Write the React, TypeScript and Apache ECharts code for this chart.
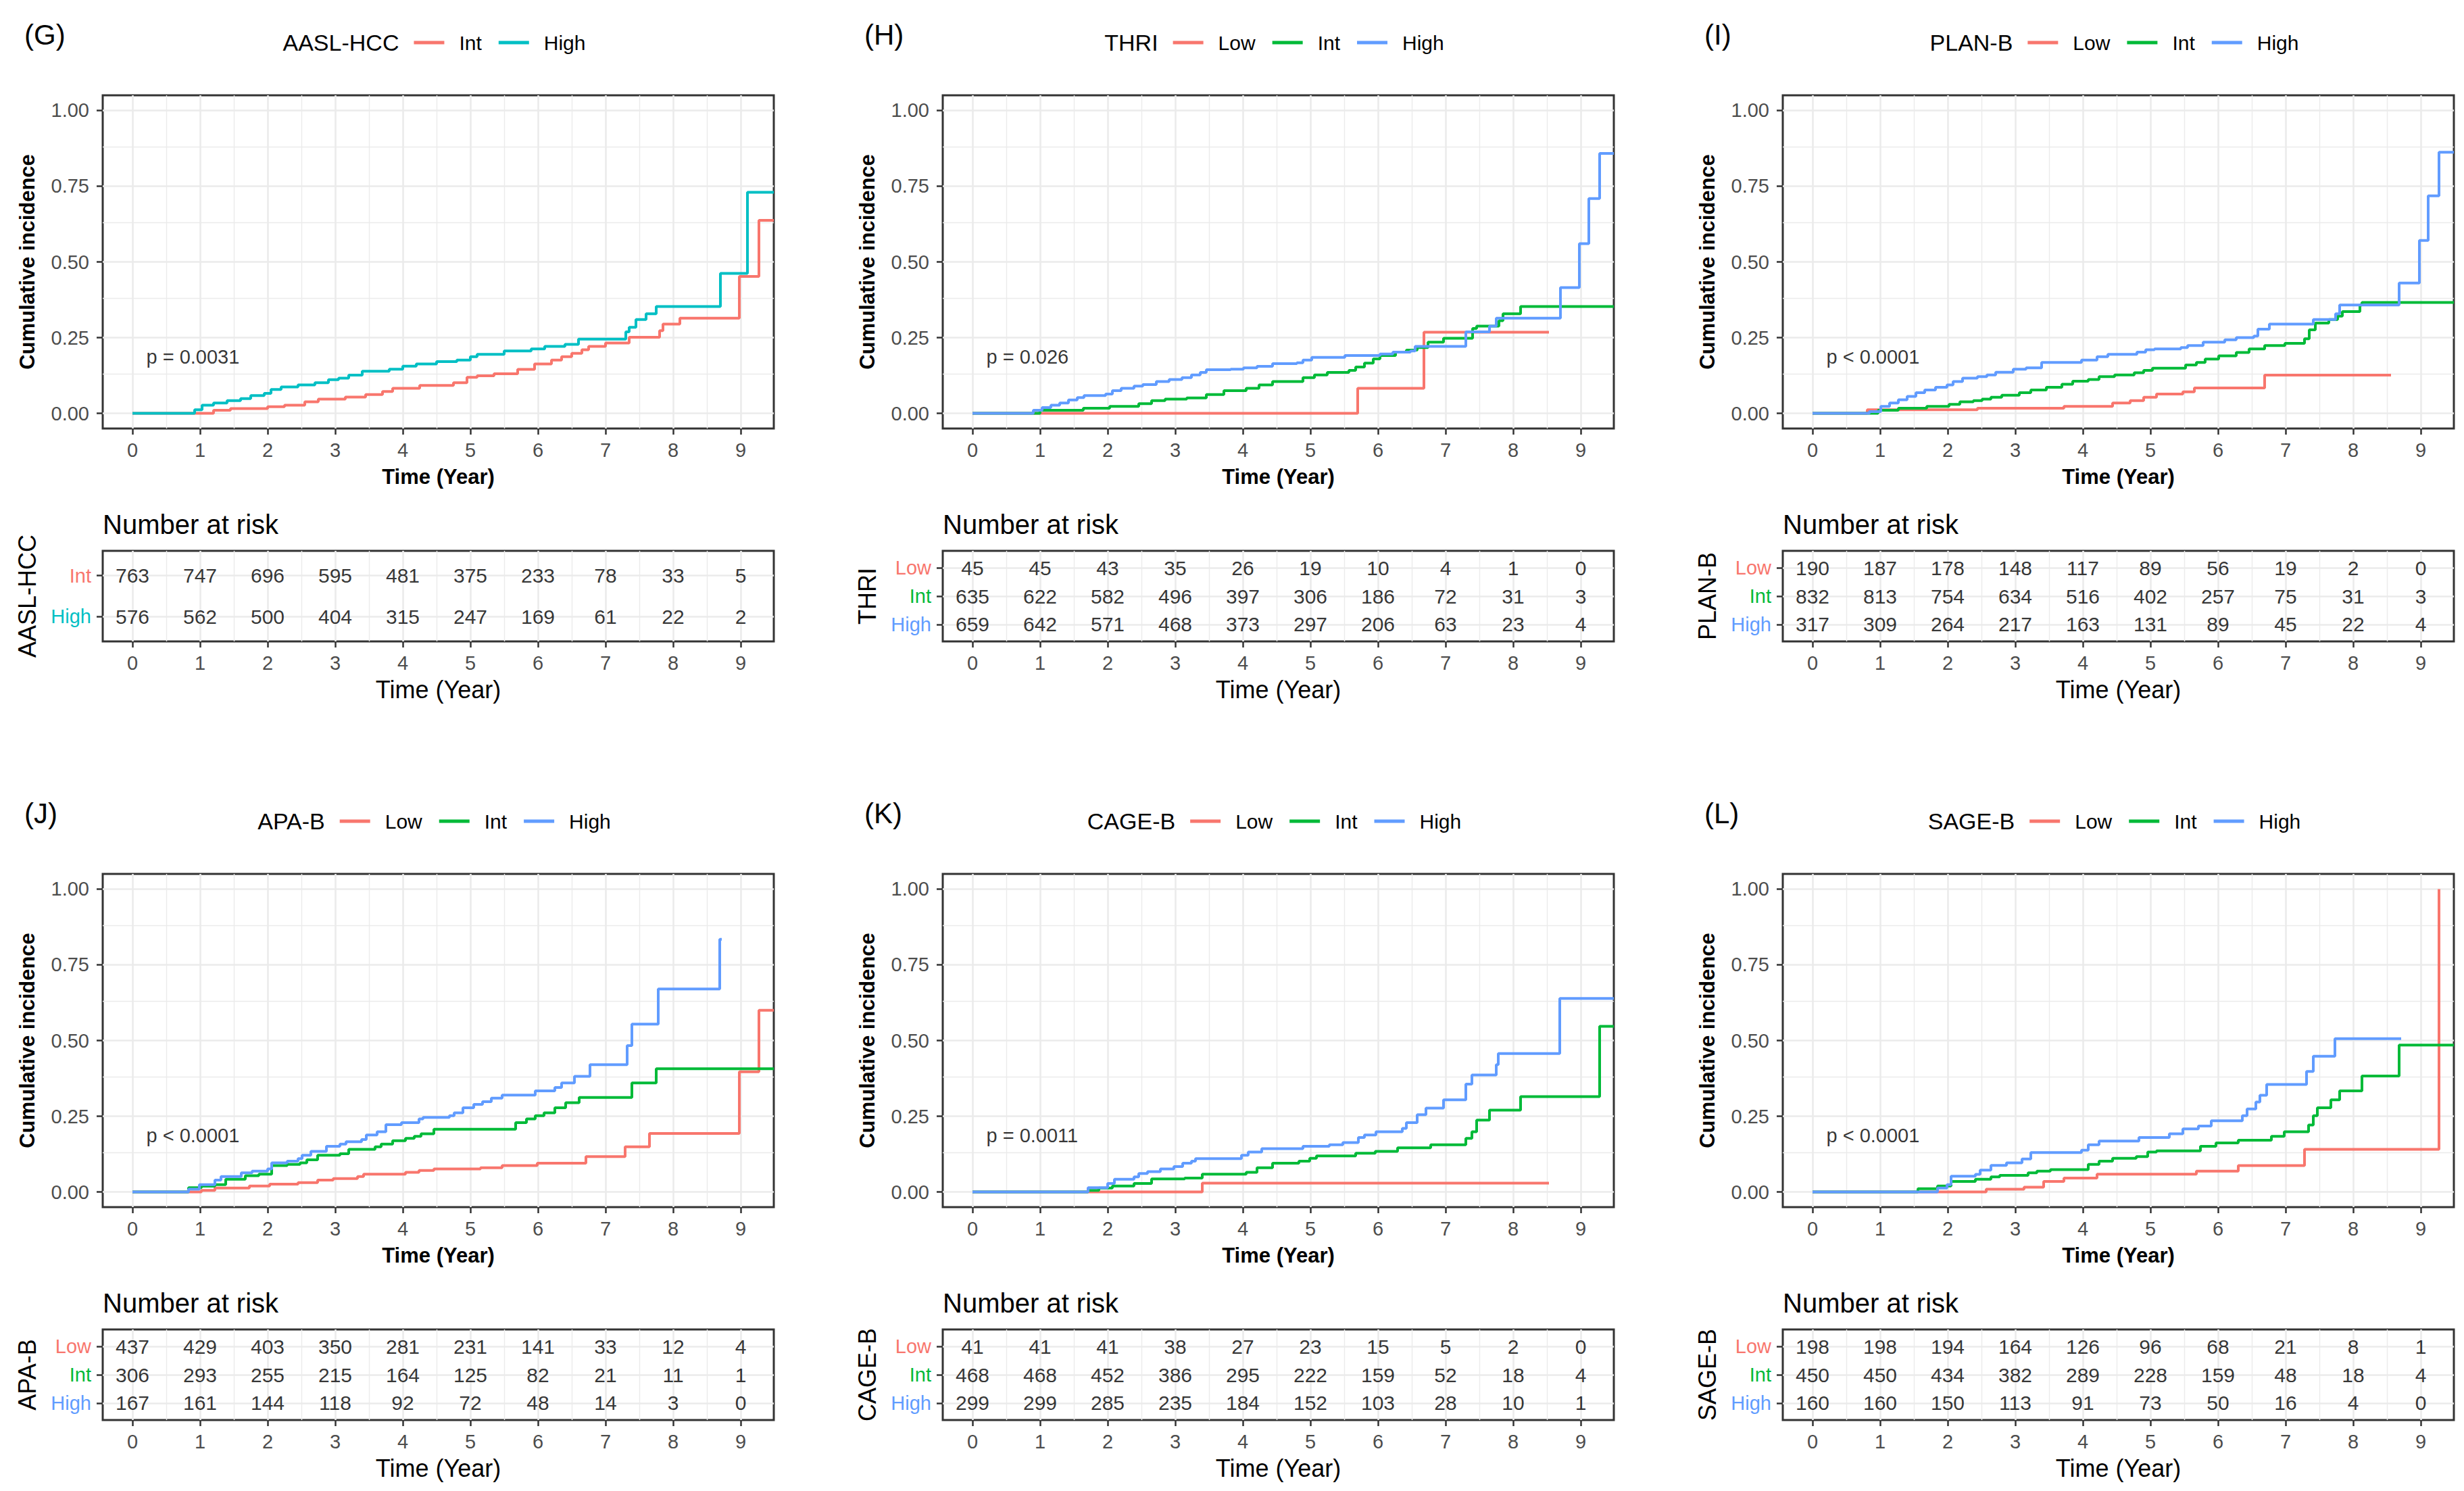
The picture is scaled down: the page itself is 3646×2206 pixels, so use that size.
import React, { useEffect, useRef } from "react";
import * as echarts from "echarts";

const FONT = "'Liberation Sans', Arial, Helvetica, sans-serif";
const RED = "#F8766D";
const GREEN = "#00BA38";
const BLUE = "#619CFF";
const CYAN = "#00BFC4";

const timeTicks = [0, 1, 2, 3, 4, 5, 6, 7, 8, 9];
const timeMinor = [0.5, 1.5, 2.5, 3.5, 4.5, 5.5, 6.5, 7.5, 8.5];
const incTicks = [0, 0.25, 0.5, 0.75, 1];
const incMinor = [0.125, 0.375, 0.625, 0.875];

// ---- (G) AASL-HCC ----
const gInt = [[0,0],[1.2,0.010],[1.45,0.016],[2.0,0.022],[2.25,0.027],[2.55,0.038],[2.75,0.047],[3.15,0.054],[3.45,0.062],[3.7,0.072],[3.85,0.083],[4.25,0.092],[4.75,0.101],[4.95,0.119],[5.1,0.124],[5.35,0.131],[5.7,0.145],[5.95,0.163],[6.2,0.176],[6.35,0.187],[6.5,0.198],[6.65,0.210],[6.75,0.221],[7.0,0.232],[7.35,0.251],[7.8,0.273],[7.85,0.295],[8.1,0.314],[8.98,0.452],[9.27,0.637],[9.49,0.637]];
const gHigh = [[0,0],[0.92,0.012],[1.03,0.027],[1.2,0.034],[1.4,0.042],[1.6,0.049],[1.75,0.059],[1.95,0.066],[2.05,0.079],[2.2,0.087],[2.45,0.094],[2.7,0.101],[2.9,0.111],[3.05,0.116],[3.2,0.126],[3.4,0.139],[3.8,0.146],[4.0,0.156],[4.2,0.163],[4.5,0.171],[4.8,0.176],[5.0,0.187],[5.1,0.195],[5.5,0.206],[5.9,0.213],[6.1,0.221],[6.4,0.228],[6.6,0.245],[7.3,0.269],[7.35,0.284],[7.45,0.310],[7.6,0.329],[7.75,0.353],[8.7,0.462],[9.1,0.730],[9.49,0.730]];
const gRiskInt = [763, 747, 696, 595, 481, 375, 233, 78, 33, 5];
const gRiskHigh = [576, 562, 500, 404, 315, 247, 169, 61, 22, 2];

// ---- (H) THRI ----
const hLow = [[0,0],[5.7,0.083],[6.68,0.268],[8.53,0.268]];
const hInt = [[0,0],[1.0,0.010],[1.64,0.017],[2.03,0.023],[2.46,0.032],[2.65,0.042],[2.85,0.047],[3.17,0.051],[3.46,0.062],[3.72,0.075],[4.05,0.083],[4.24,0.094],[4.44,0.105],[4.89,0.118],[5.06,0.127],[5.25,0.135],[5.57,0.142],[5.67,0.153],[5.8,0.166],[5.93,0.180],[6.03,0.191],[6.26,0.202],[6.42,0.209],[6.58,0.217],[6.74,0.235],[6.97,0.248],[7.4,0.280],[7.46,0.288],[7.79,0.306],[7.85,0.329],[8.11,0.353],[9.49,0.353]];
const hHigh = [[0,0],[0.9,0.010],[1.03,0.019],[1.16,0.027],[1.29,0.034],[1.42,0.044],[1.55,0.052],[1.65,0.059],[1.97,0.064],[2.07,0.075],[2.2,0.083],[2.39,0.090],[2.52,0.095],[2.72,0.105],[2.91,0.112],[3.1,0.118],[3.24,0.127],[3.37,0.135],[3.46,0.144],[3.82,0.146],[4.01,0.150],[4.21,0.155],[4.44,0.164],[4.8,0.167],[4.89,0.176],[5.02,0.185],[5.51,0.191],[6.03,0.196],[6.22,0.202],[6.48,0.206],[6.55,0.221],[7.3,0.269],[7.65,0.288],[7.75,0.314],[8.7,0.415],[8.98,0.560],[9.12,0.709],[9.28,0.858],[9.49,0.858]];
const hRiskLow = [45, 45, 43, 35, 26, 19, 10, 4, 1, 0];
const hRiskInt = [635, 622, 582, 496, 397, 306, 186, 72, 31, 3];
const hRiskHigh = [659, 642, 571, 468, 373, 297, 206, 63, 23, 4];

// ---- (I) PLAN-B ----
const iLow = [[0,0],[0.81,0.012],[2.44,0.017],[3.72,0.023],[4.44,0.034],[4.7,0.042],[4.9,0.053],[5.09,0.064],[5.48,0.071],[5.65,0.084],[6.69,0.126],[8.56,0.126]];
const iInt = [[0,0],[0.97,0.010],[1.27,0.017],[1.69,0.023],[2.02,0.030],[2.18,0.038],[2.38,0.042],[2.51,0.047],[2.64,0.053],[2.8,0.060],[3.06,0.068],[3.23,0.077],[3.46,0.086],[3.69,0.096],[3.85,0.106],[4.08,0.112],[4.24,0.121],[4.47,0.127],[4.76,0.134],[4.9,0.142],[5.03,0.149],[5.52,0.160],[5.68,0.168],[5.81,0.179],[6.01,0.190],[6.27,0.201],[6.46,0.213],[6.69,0.224],[6.99,0.231],[7.28,0.246],[7.35,0.276],[7.44,0.298],[7.64,0.310],[7.77,0.321],[7.84,0.336],[8.1,0.358],[8.13,0.366],[9.49,0.366]];
const iHigh = [[0,0],[0.84,0.006],[1.01,0.023],[1.14,0.034],[1.27,0.045],[1.4,0.056],[1.53,0.068],[1.66,0.077],[1.82,0.086],[1.99,0.094],[2.08,0.105],[2.22,0.116],[2.44,0.121],[2.58,0.127],[2.71,0.136],[2.97,0.146],[3.16,0.150],[3.39,0.168],[3.98,0.176],[4.21,0.187],[4.37,0.195],[4.8,0.202],[4.93,0.210],[5.06,0.213],[5.45,0.217],[5.55,0.224],[5.78,0.235],[6.1,0.243],[6.27,0.250],[6.53,0.255],[6.59,0.278],[6.76,0.295],[7.41,0.310],[7.74,0.329],[7.8,0.358],[8.68,0.430],[8.98,0.571],[9.11,0.718],[9.27,0.862],[9.49,0.862]];
const iRiskLow = [190, 187, 178, 148, 117, 89, 56, 19, 2, 0];
const iRiskInt = [832, 813, 754, 634, 516, 402, 257, 75, 31, 3];
const iRiskHigh = [317, 309, 264, 217, 163, 131, 89, 45, 22, 4];

// ---- (J) APA-B ----
const jLow = [[0,0],[1.02,0.005],[1.22,0.013],[1.73,0.020],[2.03,0.026],[2.45,0.031],[2.74,0.039],[2.97,0.044],[3.33,0.051],[3.42,0.059],[4.04,0.065],[4.24,0.071],[4.46,0.076],[5.15,0.080],[5.47,0.087],[5.99,0.095],[6.71,0.117],[7.29,0.149],[7.65,0.193],[8.98,0.397],[9.27,0.600],[9.49,0.600]];
const jInt = [[0,0],[0.83,0.014],[1.02,0.019],[1.22,0.024],[1.38,0.042],[1.67,0.054],[1.87,0.059],[2.06,0.087],[2.29,0.091],[2.48,0.096],[2.58,0.106],[2.74,0.121],[3.07,0.126],[3.2,0.141],[3.59,0.149],[3.68,0.158],[3.85,0.169],[4.04,0.177],[4.17,0.184],[4.27,0.192],[4.46,0.207],[5.67,0.229],[5.83,0.241],[5.96,0.252],[6.09,0.261],[6.25,0.278],[6.41,0.295],[6.61,0.312],[7.39,0.360],[7.75,0.407],[9.49,0.407]];
const jHigh = [[0,0],[0.83,0.009],[0.99,0.024],[1.22,0.039],[1.31,0.051],[1.61,0.063],[1.77,0.069],[2.0,0.076],[2.06,0.096],[2.29,0.102],[2.45,0.110],[2.51,0.121],[2.64,0.134],[2.87,0.151],[3.07,0.158],[3.16,0.166],[3.39,0.173],[3.46,0.188],[3.62,0.199],[3.75,0.222],[3.98,0.229],[4.24,0.241],[4.3,0.246],[4.69,0.252],[4.76,0.261],[4.89,0.278],[5.05,0.289],[5.18,0.298],[5.31,0.310],[5.47,0.320],[5.96,0.334],[6.25,0.345],[6.35,0.360],[6.54,0.382],[6.77,0.420],[7.32,0.483],[7.39,0.554],[7.78,0.670],[8.69,0.834],[8.72,0.834]];
const jRiskLow = [437, 429, 403, 350, 281, 231, 141, 33, 12, 4];
const jRiskInt = [306, 293, 255, 215, 164, 125, 82, 21, 11, 1];
const jRiskHigh = [167, 161, 144, 118, 92, 72, 48, 14, 3, 0];

// ---- (K) CAGE-B ----
const kLow = [[0,0],[3.4,0.029],[8.53,0.029]];
const kInt = [[0,0],[1.71,0.005],[1.87,0.013],[2.07,0.020],[2.39,0.028],[2.65,0.043],[3.14,0.046],[3.4,0.059],[4.05,0.065],[4.21,0.080],[4.44,0.095],[4.83,0.102],[4.99,0.111],[5.09,0.119],[5.67,0.128],[5.96,0.134],[6.29,0.146],[6.78,0.156],[7.3,0.177],[7.39,0.199],[7.46,0.237],[7.65,0.270],[8.11,0.315],[9.28,0.547],[9.49,0.547]];
const kHigh = [[0,0],[1.71,0.014],[2.0,0.028],[2.1,0.042],[2.39,0.050],[2.46,0.061],[2.59,0.067],[2.78,0.076],[2.98,0.084],[3.11,0.095],[3.24,0.102],[3.3,0.110],[3.98,0.121],[4.08,0.132],[4.28,0.143],[4.89,0.151],[5.28,0.156],[5.48,0.163],[5.71,0.180],[5.8,0.188],[5.97,0.199],[6.36,0.210],[6.42,0.229],[6.58,0.255],[6.71,0.277],[6.97,0.304],[7.3,0.356],[7.39,0.386],[7.75,0.420],[7.78,0.457],[8.69,0.639],[9.49,0.639]];
const kRiskLow = [41, 41, 41, 38, 27, 23, 15, 5, 2, 0];
const kRiskInt = [468, 468, 452, 386, 295, 222, 159, 52, 18, 4];
const kRiskHigh = [299, 299, 285, 235, 184, 152, 103, 28, 10, 1];

// ---- (L) SAGE-B ----
const lLow = [[0,0],[2.57,0.009],[3.13,0.016],[3.42,0.035],[3.72,0.046],[4.21,0.059],[5.68,0.069],[6.3,0.087],[7.28,0.141],[9.27,1.0]];
const lInt = [[0,0],[1.56,0.011],[1.85,0.020],[2.05,0.035],[2.41,0.042],[2.64,0.050],[2.77,0.055],[3.19,0.063],[3.32,0.069],[3.52,0.074],[4.08,0.091],[4.24,0.102],[4.44,0.111],[4.79,0.117],[4.96,0.132],[5.09,0.136],[5.74,0.151],[5.97,0.162],[6.3,0.171],[6.79,0.184],[6.98,0.199],[7.34,0.221],[7.41,0.252],[7.47,0.278],[7.67,0.304],[7.8,0.334],[8.13,0.383],[8.68,0.485],[9.49,0.485]];
const lHigh = [[0,0],[1.85,0.013],[1.99,0.024],[2.05,0.052],[2.41,0.058],[2.48,0.072],[2.64,0.088],[2.87,0.096],[3.1,0.109],[3.23,0.130],[3.98,0.138],[4.08,0.156],[4.24,0.168],[4.83,0.180],[5.28,0.192],[5.48,0.208],[5.71,0.218],[5.9,0.235],[6.36,0.252],[6.43,0.274],[6.56,0.297],[6.62,0.319],[6.72,0.355],[7.31,0.398],[7.41,0.448],[7.73,0.506],[8.71,0.506]];
const lRiskLow = [198, 198, 194, 164, 126, 96, 68, 21, 8, 1];
const lRiskInt = [450, 450, 434, 382, 289, 228, 159, 48, 18, 4];
const lRiskHigh = [160, 160, 150, 113, 91, 73, 50, 16, 4, 0];

const panelLetters = ["(G)", "(H)", "(I)", "(J)", "(K)", "(L)"];
const scoreNames = ["AASL-HCC", "THRI", "PLAN-B", "APA-B", "CAGE-B", "SAGE-B"];
const pValues = ["p = 0.0031", "p = 0.026", "p < 0.0001", "p < 0.0001", "p = 0.0011", "p < 0.0001"];
const groups2 = ["Int", "High"];
const groups3 = ["Low", "Int", "High"];
const pLabelPos = [0.2, 0.186];

const panels = [
  { groups: groups2, colors: [RED, CYAN], curves: [gInt, gHigh], risk: [gRiskInt, gRiskHigh] },
  { groups: groups3, colors: [RED, GREEN, BLUE], curves: [hLow, hInt, hHigh], risk: [hRiskLow, hRiskInt, hRiskHigh] },
  { groups: groups3, colors: [RED, GREEN, BLUE], curves: [iLow, iInt, iHigh], risk: [iRiskLow, iRiskInt, iRiskHigh] },
  { groups: groups3, colors: [RED, GREEN, BLUE], curves: [jLow, jInt, jHigh], risk: [jRiskLow, jRiskInt, jRiskHigh] },
  { groups: groups3, colors: [RED, GREEN, BLUE], curves: [kLow, kInt, kHigh], risk: [kRiskLow, kRiskInt, kRiskHigh] },
  { groups: groups3, colors: [RED, GREEN, BLUE], curves: [lLow, lInt, lHigh], risk: [lRiskLow, lRiskInt, lRiskHigh] },
];

// layout (px)
const COL = 1243;
const ROW = 1152;
const PL = 152;
const PW = 993;
const PT = 141;
const PH = 493;
const TT = 815;
const TH = 134;
const XMIN = -0.44;
const XMAX = 9.49;

const GRID_COLOR = "#EBEBEB";
const MAJOR_W = 2.6;
const MINOR_W = 1.4;

function textWidth(t: string, size: number, weight = "normal") {
  const c = document.createElement("canvas").getContext("2d");
  if (!c) return t.length * size * 0.55;
  c.font = `${weight} ${size}px ${FONT}`;
  return c.measureText(t).width;
}

function gridLineSeries(idx: number, xMaj: number[], xMin: number[], yMaj: number[], yMin: number[]) {
  const data: any[] = [];
  xMin.forEach((v) => data.push({ xAxis: v, lineStyle: { width: MINOR_W, color: GRID_COLOR, type: "solid" } }));
  yMin.forEach((v) => data.push({ yAxis: v, lineStyle: { width: MINOR_W, color: GRID_COLOR, type: "solid" } }));
  xMaj.forEach((v) => data.push({ xAxis: v, lineStyle: { width: MAJOR_W, color: GRID_COLOR, type: "solid" } }));
  yMaj.forEach((v) => data.push({ yAxis: v, lineStyle: { width: MAJOR_W, color: GRID_COLOR, type: "solid" } }));
  return {
    type: "line",
    xAxisIndex: idx,
    yAxisIndex: idx,
    data: [],
    silent: true,
    z: 1,
    markLine: {
      silent: true,
      z: 1,
      symbol: ["none", "none"],
      label: { show: false },
      emphasis: { disabled: true },
      lineStyle: { type: "solid", color: GRID_COLOR, width: MAJOR_W },
      data,
    },
  };
}

function xAxisCfg(idx: number, bold: boolean, nameSize: number, nameGap: number, margin: number) {
  return {
    gridIndex: idx,
    type: "value",
    min: XMIN,
    max: XMAX,
    name: "Time (Year)",
    nameLocation: "middle",
    nameGap,
    nameTextStyle: { fontFamily: FONT, fontSize: nameSize, fontWeight: bold ? "bold" : "normal", color: "#000" },
    axisLine: { show: false, onZero: false },
    axisTick: { show: true, length: 9, customValues: timeTicks, lineStyle: { color: "#333333", width: 2.5 } },
    axisLabel: { customValues: timeTicks, margin, fontFamily: FONT, fontSize: 29, color: "#4D4D4D" },
    splitLine: { show: false },
  };
}

function buildOption() {
  const grid: any[] = [];
  const xAxis: any[] = [];
  const yAxis: any[] = [];
  const series: any[] = [];
  const legend: any[] = [];
  const graphic: any[] = [];

  panels.forEach((pn, i) => {
    const c = i % 3;
    const r = Math.floor(i / 3);
    const ox = COL * c;
    const oy = ROW * r;
    const id = panelLetters[i];
    const n = pn.groups.length;

    // ---------- plot ----------
    const gi = grid.length;
    grid.push({ left: PL + ox, top: PT + oy, width: PW, height: PH, show: true, borderColor: "#333333", borderWidth: 3, backgroundColor: "#ffffff" });
    xAxis.push(xAxisCfg(gi, true, 31, 56, 17));
    yAxis.push({
      gridIndex: gi,
      type: "value",
      min: -0.05,
      max: 1.05,
      name: "Cumulative incidence",
      nameLocation: "middle",
      nameGap: 96,
      nameTextStyle: { fontFamily: FONT, fontSize: 31, fontWeight: "bold", color: "#000" },
      axisLine: { show: false, onZero: false },
      axisTick: { show: true, length: 9, customValues: incTicks, lineStyle: { color: "#333333", width: 2.5 } },
      axisLabel: { customValues: incTicks, margin: 20, fontFamily: FONT, fontSize: 29, color: "#4D4D4D", formatter: (v: number) => v.toFixed(2) },
      splitLine: { show: false },
    });
    series.push(gridLineSeries(gi, timeTicks, timeMinor, incTicks, incMinor));
    pn.curves.forEach((curve, k) => {
      series.push({
        type: "line",
        name: `${id}|${pn.groups[k]}`,
        xAxisIndex: gi,
        yAxisIndex: gi,
        data: curve,
        step: "end",
        symbol: "none",
        showSymbol: false,
        silent: true,
        z: 3 + k,
        lineStyle: { color: pn.colors[k], width: 4 },
        itemStyle: { color: pn.colors[k] },
      });
    });
    series.push({
      type: "scatter",
      xAxisIndex: gi,
      yAxisIndex: gi,
      data: [pLabelPos],
      symbolSize: 1,
      silent: true,
      z: 6,
      itemStyle: { color: "rgba(0,0,0,0)" },
      label: { show: true, position: "right", distance: 0, formatter: pValues[i], fontFamily: FONT, fontSize: 29, color: "#000" },
    });

    // ---------- legend ----------
    const titleW = textWidth(scoreNames[i], 34);
    let total = titleW + 22;
    pn.groups.forEach((g, k) => {
      total += 45 + 5 + 17 + textWidth(g, 30) + (k < n - 1 ? 25 : 0);
    });
    const center = PL + ox + PW / 2;
    const start = center - total / 2 - 6;
    graphic.push({
      type: "text",
      x: start,
      y: 63 + oy,
      silent: true,
      style: { text: scoreNames[i], fontFamily: FONT, fontSize: 34, fill: "#000", textAlign: "left", textVerticalAlign: "middle" },
    });
    legend.push({
      left: start + titleW + 22,
      top: 48 + oy,
      padding: 0,
      orient: "horizontal",
      itemWidth: 45,
      itemHeight: 5,
      itemGap: 25,
      icon: "rect",
      selectedMode: false,
      itemStyle: { borderWidth: 0 },
      lineStyle: { width: 0 },
      data: pn.groups.map((g) => ({ name: `${id}|${g}`, icon: "rect" })),
      formatter: (name: string) => name.split("|")[1],
      textStyle: { fontFamily: FONT, fontSize: 30, color: "#000", lineHeight: 30, padding: [0, 0, 0, 17] },
    });

    // panel letter
    graphic.push({
      type: "text",
      x: 36 + ox,
      y: 51 + oy,
      silent: true,
      style: { text: id, fontFamily: FONT, fontSize: 42, fill: "#000", textAlign: "left", textVerticalAlign: "middle" },
    });
    // Number at risk
    graphic.push({
      type: "text",
      x: 152 + ox,
      y: 776 + oy,
      silent: true,
      style: { text: "Number at risk", fontFamily: FONT, fontSize: 40, fill: "#000", textAlign: "left", textVerticalAlign: "middle" },
    });

    // ---------- risk table ----------
    const ti = grid.length;
    grid.push({ left: PL + ox, top: TT + oy, width: PW, height: TH, show: true, borderColor: "#333333", borderWidth: 3, backgroundColor: "#ffffff" });
    xAxis.push(xAxisCfg(ti, false, 36, 53, 17));
    const rows = pn.groups.map((_, k) => k + 1);
    const rich: any = {};
    pn.groups.forEach((_, k) => {
      rich[`r${k + 1}`] = { color: pn.colors[k], fontFamily: FONT, fontSize: 29 };
    });
    yAxis.push({
      gridIndex: ti,
      type: "value",
      min: 0.4,
      max: n + 0.6,
      inverse: true,
      name: scoreNames[i],
      nameLocation: "middle",
      nameGap: 94,
      nameTextStyle: { fontFamily: FONT, fontSize: 36, color: "#000" },
      axisLine: { show: false, onZero: false },
      axisTick: { show: true, length: 9, customValues: rows, lineStyle: { color: "#333333", width: 2.5 } },
      axisLabel: {
        customValues: rows,
        margin: 17,
        fontFamily: FONT,
        fontSize: 29,
        formatter: (v: number) => `{r${Math.round(v)}|${pn.groups[Math.round(v) - 1]}}`,
        rich,
      },
      splitLine: { show: false },
    });
    series.push(gridLineSeries(ti, timeTicks, timeMinor, rows, []));
    pn.risk.forEach((vals, k) => {
      series.push({
        type: "scatter",
        xAxisIndex: ti,
        yAxisIndex: ti,
        data: vals.map((v, j) => [timeTicks[j], k + 1, v]),
        symbolSize: 1,
        silent: true,
        z: 5,
        itemStyle: { color: "rgba(0,0,0,0)" },
        label: {
          show: true,
          position: "inside",
          formatter: (p: any) => String(p.value[2]),
          fontFamily: FONT,
          fontSize: 30,
          color: "#000",
        },
      });
    });
  });

  return {
    animation: false,
    backgroundColor: "#ffffff",
    textStyle: { fontFamily: FONT },
    grid,
    xAxis,
    yAxis,
    legend,
    graphic,
    series,
  };
}

export default function App() {
  const ref = useRef<HTMLDivElement>(null);
  useEffect(() => {
    if (!ref.current) return;
    const chart = echarts.init(ref.current, null, { renderer: "svg" });
    chart.setOption(buildOption() as any);
    return () => chart.dispose();
  }, []);
  return (
    <div
      ref={ref}
      style={{ position: "absolute", left: 0, top: 0, width: 3646, height: 2206, background: "#fff" }}
    />
  );
}
